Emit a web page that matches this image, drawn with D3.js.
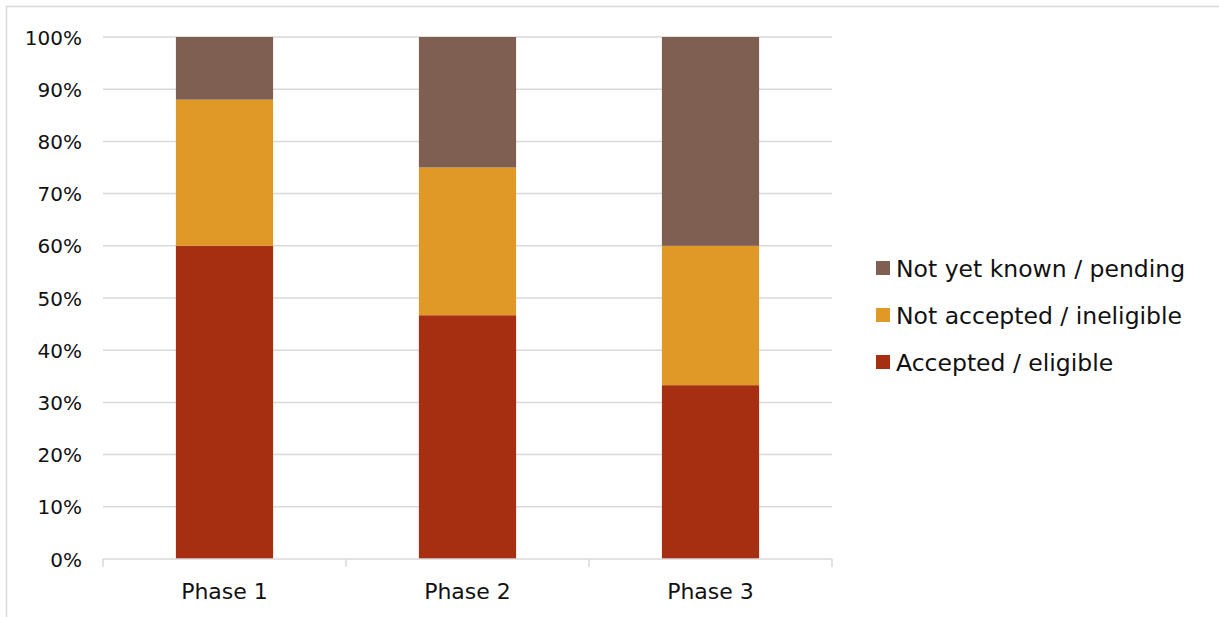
<!DOCTYPE html>
<html><head><meta charset="utf-8">
<script src="https://cdn.jsdelivr.net/npm/d3@7"></script>
<style>body{margin:0;background:#fff}svg{display:block}</style>
</head><body><svg id="c" width="1219" height="617"></svg>
<script>
const categories = ["Phase 1", "Phase 2", "Phase 3"];
const seriesNames = ["Accepted / eligible", "Not accepted / ineligible", "Not yet known / pending"];
const accepted = [60, 46.7, 33.3];
const notAccepted = [28, 28.3, 26.7];
const pending = [12, 25, 40];
const yTicks = [0,10,20,30,40,50,60,70,80,90,100];
const colors = ["#a52f10", "#e09927", "#7e5f51"];

const svg = d3.select("#c");
const font = "'DejaVu Sans', sans-serif";
svg.append("rect").attr("x",6.5).attr("y",6.5).attr("width",1240).attr("height",640)
  .attr("fill","none").attr("stroke","#d9d9d9").attr("stroke-width",1.5);

const x = d3.scaleBand().domain(categories).range([103,832]).paddingInner(0.6).paddingOuter(0.3);
const xb = d3.scaleBand().domain(categories).range([103,832]);
const y = d3.scaleLinear().domain([0,100]).range([559,37]);

svg.append("g").selectAll("line").data(yTicks.filter(d=>d>0)).join("line")
  .attr("x1",103).attr("x2",832).attr("y1",d=>y(d)).attr("y2",d=>y(d))
  .attr("stroke","#d9d9d9").attr("stroke-width",1.5);

const rows = categories.map((c,i)=>({cat:c, a:accepted[i], n:notAccepted[i], p:pending[i]}));
const stack = d3.stack().keys(["a","n","p"])(rows);
svg.append("g").selectAll("g").data(stack).join("g").attr("fill",(d,i)=>colors[i])
  .selectAll("rect").data(d=>d).join("rect")
  .attr("x",d=>x(d.data.cat)).attr("width",x.bandwidth())
  .attr("y",d=>y(d[1])).attr("height",d=>y(d[0])-y(d[1]));

// x axis
const xa = svg.append("g");
xa.append("line").attr("x1",103).attr("x2",832).attr("y1",559).attr("y2",559).attr("stroke","#d9d9d9").attr("stroke-width",1.5);
const edges = categories.map(c=>xb(c)).concat([xb(categories[categories.length-1])+xb.bandwidth()]);
xa.selectAll("line.t").data(edges).join("line").attr("class","t")
  .attr("x1",d=>d).attr("x2",d=>d).attr("y1",559).attr("y2",567).attr("stroke","#d9d9d9").attr("stroke-width",1.5);
xa.selectAll("text").data(categories).join("text")
  .attr("x",d=>xb(d)+xb.bandwidth()/2).attr("y",599).attr("text-anchor","middle")
  .attr("font-family",font).attr("font-size",22).attr("fill","#111").text(d=>d);

// y labels
svg.append("g").selectAll("text").data(yTicks).join("text")
  .attr("x",82).attr("y",d=>y(d)+7.5).attr("text-anchor","end")
  .attr("font-family",font).attr("font-size",20).attr("fill","#111").text(d=>d+"%");

// legend
const legOrder = [2,1,0];
const lg = svg.append("g").selectAll("g").data(legOrder).join("g")
  .attr("transform",(d,i)=>`translate(876,${268+i*47})`);
lg.append("rect").attr("x",0).attr("y",-7).attr("width",14).attr("height",14).attr("fill",d=>colors[d]);
lg.append("text").attr("x",20).attr("y",8.5).attr("font-family",font).attr("font-size",23.5).attr("fill","#111")
  .text(d=>seriesNames[d]);
</script></body></html>
